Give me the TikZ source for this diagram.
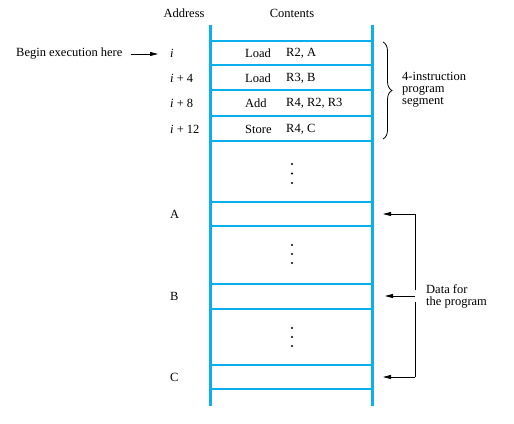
\documentclass[tikz,border=0pt]{standalone}
\usepackage{fontspec}
\setmainfont{Liberation Serif}
\usetikzlibrary{arrows.meta,decorations.pathreplacing}
\definecolor{memblue}{RGB}{10,175,238}
\tikzset{
  wall/.style={draw=memblue,line width=3pt},
  shelf/.style={draw=memblue,line width=2.8pt},
  lbl/.style={inner sep=0pt,font=\fontsize{12.5}{12}\selectfont},
  addr/.style={lbl,anchor=west},
  ptr/.style={-{Triangle[length=8pt,width=4pt]},line width=0.8pt},
  dotc/.style={circle,fill=black,inner sep=0pt,minimum size=2.4pt},
}
\begin{document}
\begin{tikzpicture}[x=1pt,y=-1pt]
\useasboundingbox (0,0) rectangle (514,423);
% walls
\coordinate (tl) at (210,25);
\coordinate (bl) at (210,406);
\coordinate (tr) at (372,25);
\coordinate (br) at (372,406);
\draw[wall] (tl) -- (bl);
\draw[wall] (tr) -- (br);
% shelves
\foreach \y/\n in {41/h1,65/h2,90/h3,116/h4,141/h5,202/h6,226/h7,284/h8,309/h9,365/h10,389/h11}{
  \coordinate (\n l) at (210,\y);
  \coordinate (\n r) at (372,\y);
  \draw[shelf] (\n l) -- (\n r);
}
% headers
\node[lbl] (haddr) at (184,13) {Address};
\node[lbl] (hcont) at (292,13) {Contents};
% address labels
\node[addr] (ai) at (170,53) {\textit{i}};
\node[addr] (ai4) at (170,78) {\textit{i} + 4};
\node[addr] (ai8) at (170,103) {\textit{i} + 8};
\node[addr] (ai12) at (170,129) {\textit{i} + 12};
\node[addr] (aA) at (170,214) {A};
\node[addr] (aB) at (170,296) {B};
\node[addr] (aC) at (170,377) {C};
% contents
\node[addr] (op1) at (245,53) {Load};
\node[addr] (ar1) at (286,53) {R2, A};
\node[addr] (op2) at (245,78) {Load};
\node[addr] (ar2) at (286,78) {R3, B};
\node[addr] (op3) at (245,103) {Add};
\node[addr] (ar3) at (286,103) {R4, R2, R3};
\node[addr] (op4) at (245,129) {Store};
\node[addr] (ar4) at (286,129) {R4, C};
% begin execution
\node[addr] (begin) at (16,54) {Begin execution here};
\coordinate (bend) at (158,54);
\draw[ptr] (begin.east) ++(8,0) -- (bend);
% dots
\foreach \y in {164,173.5,183,245,254,263,328,337,346}{
  \node[dotc] at (292,\y) {};
}
% brace
\coordinate (btop) at (383,42);
\coordinate (bbot) at (383,139);
\draw[line width=0.8pt,decorate,decoration={brace,amplitude=9pt}] (btop) -- (bbot);
\node[addr,align=left] (seg) at (402,89.5) {4-instruction\\program\\segment};
% data arrows
\node[addr,align=left] (data) at (426,296) {Data for\\the program};
\coordinate (vA) at (415,214);
\coordinate (vC) at (415,377);
\coordinate (vB1) at (415,290);
\coordinate (vB2) at (415,302);
\coordinate (vB) at (415,296);
\coordinate (tA) at (383,214);
\coordinate (tB) at (385,296);
\coordinate (tC) at (383,377);
\draw[line width=0.8pt] (vB1) -- (vA);
\draw[line width=0.8pt] (vB2) -- (vC);
\draw[ptr] (vA) -- (tA);
\draw[ptr] (vB) -- (tB);
\draw[ptr] (vC) -- (tC);
\end{tikzpicture}
\end{document}
